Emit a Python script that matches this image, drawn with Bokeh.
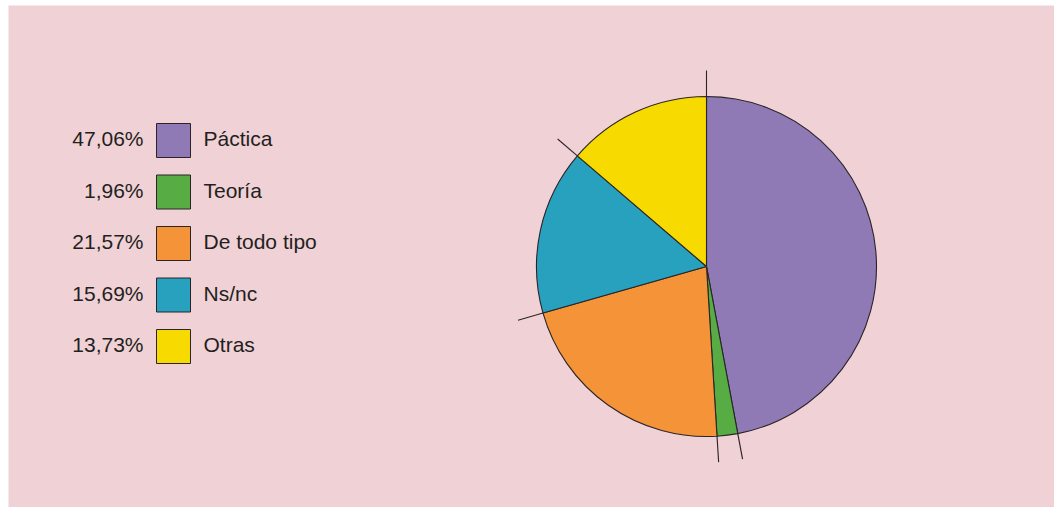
import math
from bokeh.plotting import figure
from bokeh.models import Range1d
from bokeh.core.properties import value
from bokeh.embed import file_html
from bokeh.resources import INLINE

# ---- data ----
categories = ["Páctica", "Teoría", "De todo tipo", "Ns/nc", "Otras"]
percentages = [47.06, 1.96, 21.57, 15.69, 13.73]
pct_labels = ["47,06%", "1,96%", "21,57%", "15,69%", "13,73%"]
colors = ["#8f7ab6", "#57ad44", "#f59339", "#28a1bf", "#f6da00"]

# ---- layout / style ----
W, H = 1054, 507
LEFT, TOP = 8, 5
BG = "#f0d1d6"
EDGE = "#2a2426"
FONT = "Liberation Sans"
CX, CY = 706, -266          # pie centre (screen px, y negated)
R = 170
R_OUT = 196

p = figure(width=W, height=H, output_backend="svg", toolbar_location=None,
           x_range=Range1d(LEFT, W), y_range=Range1d(-H, -TOP),
           min_border=0, min_border_left=LEFT, min_border_top=TOP,
           min_border_right=0, min_border_bottom=0,
           background_fill_color=BG, border_fill_color="white")
p.axis.visible = False
p.grid.visible = False
p.outline_line_color = None

total = sum(percentages)
starts, ends = [], []
cum = 0.0
for v in percentages:
    a0 = math.pi / 2 - 2 * math.pi * cum / total
    cum += v
    a1 = math.pi / 2 - 2 * math.pi * cum / total
    starts.append(a0)
    ends.append(a1)

p.wedge(x=[CX] * len(percentages), y=[CY] * len(percentages), radius=R,
        start_angle=starts, end_angle=ends, direction="clock",
        fill_color=colors, line_color=EDGE, line_width=1.1)

# leader ticks at slice boundaries
bx0 = [CX + R * math.cos(a) for a in starts]
by0 = [CY + R * math.sin(a) for a in starts]
bx1 = [CX + R_OUT * math.cos(a) for a in starts]
by1 = [CY + R_OUT * math.sin(a) for a in starts]
p.segment(x0=bx0, y0=by0, x1=bx1, y1=by1, line_color=EDGE, line_width=1.1)

# legend
ys = [-(140 + i * 51.5) for i in range(len(categories))]
ty = [y + 2 for y in ys]
p.rect(x=[173] * len(categories), y=ys, width=34, height=34,
       fill_color=colors, line_color=EDGE, line_width=1)
p.text(x=[143] * len(categories), y=ty, text=pct_labels,
       text_align="right", text_baseline="middle",
       text_font=value(FONT), text_font_size="21px", text_color="#231f20")
p.text(x=[203] * len(categories), y=ty, text=categories,
       text_align="left", text_baseline="middle",
       text_font=value(FONT), text_font_size="21px", text_color="#231f20")

open("out.html", "w").write(file_html(p, INLINE))
